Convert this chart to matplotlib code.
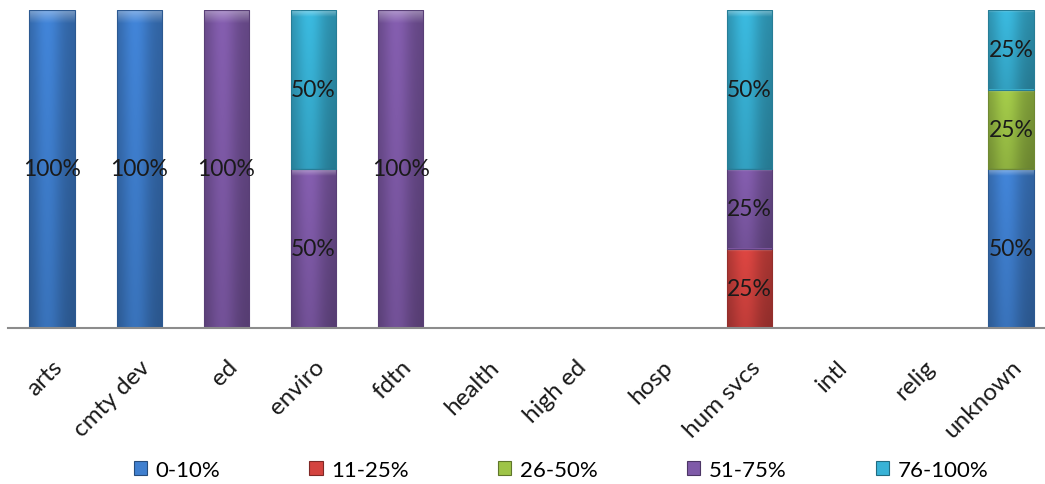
import numpy as np
import matplotlib
matplotlib.use("Agg")
import matplotlib.pyplot as plt
from matplotlib.colors import to_rgb
from matplotlib.patches import Rectangle
from matplotlib.transforms import ScaledTranslation

categories = ["arts", "cmty dev", "ed", "enviro", "fdtn", "health", "high ed",
              "hosp", "hum svcs", "intl", "relig", "unknown"]
series_names = ["0-10%", "11-25%", "26-50%", "51-75%", "76-100%"]
s_0_10   = [1.00, 1.00, 0.00, 0.00, 0.00, 0, 0, 0, 0.00, 0, 0, 0.50]
s_11_25  = [0.00, 0.00, 0.00, 0.00, 0.00, 0, 0, 0, 0.25, 0, 0, 0.00]
s_26_50  = [0.00, 0.00, 0.00, 0.00, 0.00, 0, 0, 0, 0.00, 0, 0, 0.25]
s_51_75  = [0.00, 0.00, 1.00, 0.50, 1.00, 0, 0, 0, 0.25, 0, 0, 0.00]
s_76_100 = [0.00, 0.00, 0.00, 0.50, 0.00, 0, 0, 0, 0.50, 0, 0, 0.25]
series = [s_0_10, s_11_25, s_26_50, s_51_75, s_76_100]
colors = ["#3f7fcf", "#d4433f", "#9ec447", "#7f5aa8", "#38b2d6"]

plt.rcParams['font.family'] = ['Lato', 'DejaVu Sans']
FS = 16

fig = plt.figure(figsize=(10.45, 4.85), dpi=100)
W, H = 1045, 485
left_px, right_px = 8.4, 1054.6
top_px, bot_px = 11, 329
ax = fig.add_axes([left_px / W, (H - bot_px) / H, (right_px - left_px) / W, (bot_px - top_px) / H])

x = np.arange(len(categories))
bw = 0.52


def shade(color, nx=64, ny=64):
    c = np.array(to_rgb(color))
    u = np.linspace(0, 1, nx)
    hf = 0.78 + 0.27 * np.exp(-((u - 0.4) / 0.32) ** 2)
    v = np.linspace(0, 1, ny)  # 0 = top
    vf = 1.0 - 0.14 * v
    img = c[None, None, :] * hf[None, :, None] * vf[:, None, None]
    bev = np.clip(1 - v / 0.04, 0, 1)
    img = img + (1 - img) * 0.35 * bev[:, None, None]
    return np.clip(img, 0, 1)


bottom = np.zeros(len(categories))
for vals, col in zip(series, colors):
    vals = np.array(vals, dtype=float)
    bars = ax.bar(x, vals, bw, bottom=bottom, color=col, edgecolor="none", zorder=2)
    for xi, b, v, rect in zip(x, bottom, vals, bars):
        if v <= 0:
            continue
        im = ax.imshow(shade(col, ny=max(int(v * 318), 8)), extent=(xi - bw / 2, xi + bw / 2, b, b + v),
                       aspect="auto", zorder=3, interpolation="bilinear")
        im.set_clip_path(rect)
        ax.add_patch(Rectangle((xi - bw / 2, b), bw, v, fill=False,
                               edgecolor=tuple(np.array(to_rgb(col)) * 0.7), lw=0.8, zorder=4))
        ax.text(xi, b + v / 2, f"{v * 100:.0f}%", ha="center", va="center",
                fontsize=16.5, color="#1a1a1a", zorder=5)
    bottom += vals

ax.set_xlim(-0.5, len(categories) - 0.5)
ax.set_ylim(0, 1)
ax.set_xticks(x)
labels = ax.set_xticklabels(categories, rotation=45, ha="right", va="top", rotation_mode="anchor",
                            fontsize=17.5, color="#1a1a1a")
shift = ScaledTranslation(-3 / 100, 0, fig.dpi_scale_trans)
for lab in labels:
    lab.set_transform(lab.get_transform() + shift)
ax.tick_params(axis="x", length=0, pad=20)
ax.set_yticks([])
for s in ["top", "left", "right"]:
    ax.spines[s].set_visible(False)
ax.spines["bottom"].set_color("#8c8c8c")
ax.spines["bottom"].set_linewidth(1.5)
ax.spines["bottom"].set_zorder(6)

handles = [Rectangle((0, 0), 1, 1, facecolor=c, edgecolor=tuple(np.array(to_rgb(c)) * 0.6), lw=0.8)
           for c in colors]
fig.legend(handles, series_names, loc="center", bbox_to_anchor=(0.537, 1 - 471 / H), ncol=5,
           frameon=False, fontsize=FS, handlelength=0.6, handleheight=0.6, handletextpad=0.4,
           columnspacing=4.0, borderaxespad=0)

fig.savefig("out.png", dpi=100)
